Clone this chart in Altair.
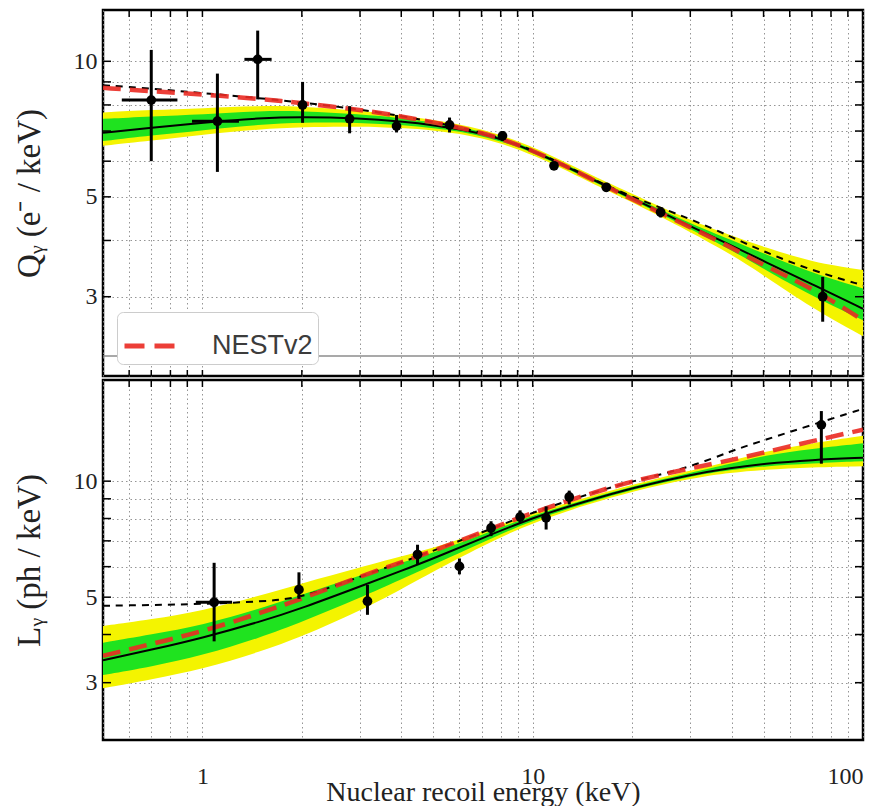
import altair as alt
import pandas as pd

# ---------------- data ----------------
x_curve = [0.5, 0.7, 1, 1.5, 2, 3, 4, 5, 7, 10, 15, 20, 30, 40, 50, 70, 100]

# Charge yield Qy (e- / keV)
qy_fit = [6.94, 7.12, 7.31, 7.48, 7.53, 7.47, 7.35, 7.22, 6.95, 6.36, 5.48, 4.97, 4.3, 3.9, 3.6, 3.2, 2.82]
qy_lo2 = [6.49, 6.66, 6.87, 7.07, 7.15, 7.17, 7.11, 7.03, 6.80, 6.23, 5.37, 4.87, 4.18, 3.72, 3.35, 2.83, 2.45]
qy_hi2 = [7.70, 7.80, 7.86, 7.97, 7.94, 7.77, 7.59, 7.41, 7.10, 6.49, 5.59, 5.08, 4.43, 4.10, 3.87, 3.58, 3.44]
qy_lo1 = [6.65, 6.84, 7.03, 7.24, 7.32, 7.31, 7.22, 7.11, 6.87, 6.30, 5.43, 4.92, 4.24, 3.81, 3.46, 3.01, 2.66]
qy_hi1 = [7.45, 7.55, 7.62, 7.76, 7.76, 7.63, 7.48, 7.32, 7.03, 6.42, 5.53, 5.02, 4.36, 4.01, 3.74, 3.39, 3.13]
qy_nest = [8.73, 8.58, 8.44, 8.25, 8.08, 7.8, 7.55, 7.32, 6.97, 6.37, 5.48, 4.94, 4.28, 3.86, 3.52, 3.14, 2.66]
qy_dash = [8.85, 8.7, 8.5, 8.28, 8.1, 7.82, 7.56, 7.33, 6.98, 6.38, 5.5, 4.99, 4.47, 4.07, 3.78, 3.43, 3.18]

qy_e = [0.70, 1.11, 1.47, 2.01, 2.79, 3.87, 5.6, 8.1, 11.6, 16.7, 24.4, 75.5]
qy_e_lo = [0.57, 0.93, 1.34, 2.01, 2.79, 3.87, 5.6, 8.1, 11.6, 16.7, 24.4, 75.5]
qy_e_hi = [0.84, 1.29, 1.62, 2.01, 2.79, 3.87, 5.6, 8.1, 11.6, 16.7, 24.4, 75.5]
qy_val = [8.2, 7.36, 10.1, 8.0, 7.45, 7.18, 7.22, 6.83, 5.86, 5.25, 4.62, 3.0]
qy_lo = [6.0, 5.68, 8.23, 7.3, 6.92, 6.95, 6.95, 6.66, 5.74, 5.13, 4.5, 2.64]
qy_hi = [10.6, 9.39, 11.7, 9.0, 7.95, 7.6, 7.5, 7.0, 5.98, 5.37, 4.74, 3.32]

# Light yield Ly (ph / keV)
ly_fit = [3.43, 3.65, 3.92, 4.32, 4.68, 5.33, 5.85, 6.3, 7.1, 8.05, 8.95, 9.6, 10.4, 10.83, 11.1, 11.35, 11.5]
ly_lo2 = [2.90, 3.06, 3.25, 3.61, 3.95, 4.61, 5.24, 5.83, 6.78, 7.82, 8.75, 9.41, 10.17, 10.53, 10.71, 10.87, 10.93]
ly_hi2 = [4.21, 4.38, 4.61, 5.05, 5.43, 5.97, 6.38, 6.71, 7.38, 8.29, 9.15, 9.79, 10.66, 11.26, 11.93, 12.54, 13.11]
ly_lo1 = [3.14, 3.30, 3.53, 3.93, 4.31, 4.98, 5.56, 6.07, 6.92, 7.93, 8.84, 9.50, 10.30, 10.70, 10.93, 11.12, 11.27]
ly_hi1 = [3.81, 4.00, 4.23, 4.67, 5.08, 5.70, 6.14, 6.52, 7.24, 8.17, 9.04, 9.70, 10.52, 11.10, 11.66, 12.14, 12.54]
ly_nest = [3.52, 3.78, 4.07, 4.55, 4.95, 5.66, 6.15, 6.6, 7.35, 8.3, 9.3, 10.0, 10.8, 11.35, 11.85, 12.7, 13.6]
ly_dash = [4.75, 4.77, 4.8, 4.87, 4.97, 5.66, 6.15, 6.6, 7.35, 8.3, 9.3, 10.0, 10.85, 12.0, 12.75, 14.0, 15.4]

ly_e = [1.085, 1.96, 3.16, 4.48, 6.0, 7.48, 9.16, 10.98, 12.9, 74.8]
ly_e_lo = [0.955, 1.96, 3.16, 4.48, 6.0, 7.48, 9.16, 10.98, 12.9, 74.8]
ly_e_hi = [1.23, 1.96, 3.16, 4.48, 6.0, 7.48, 9.16, 10.98, 12.9, 74.8]
ly_val = [4.85, 5.23, 4.88, 6.45, 6.01, 7.56, 8.08, 8.03, 9.1, 14.0]
ly_lo = [3.84, 4.95, 4.5, 6.08, 5.73, 7.2, 7.8, 7.49, 8.7, 11.1]
ly_hi = [6.14, 5.8, 5.38, 6.84, 6.3, 7.87, 8.4, 8.6, 9.45, 15.2]

x_grid = [0.5, 0.6, 0.7, 0.8, 0.9, 1, 2, 3, 4, 5, 6, 7, 8, 9, 10, 20, 30, 40, 50, 60, 70, 80, 90, 100]
x_ticks = [0.6, 0.7, 0.8, 0.9, 1, 2, 3, 4, 5, 6, 7, 8, 9, 10, 20, 30, 40, 50, 60, 70, 80, 90]
y_grid = [3, 4, 5, 6, 7, 8, 9, 10]
x_labels = [1, 10, 100]
y_labels = [3, 5, 10]

# ---------------- style ----------------
SERIF = "Liberation Serif"
W = 760
H_TOP = 366
H_BOT = 360
XDOM = [0.5, 100]
QY_DOM = [2.0, 13.0]
LY_DOM = [2.13, 18.3]
YELLOW = "#f4f400"
GREEN = "#1fe31f"
RED = "#ea2a22"
CURVE = "basis"


def panel(fit, lo1, hi1, lo2, hi2, nest, dash, e, elo, ehi, v, vlo, vhi,
          ydom, H, ytitle, bottom):
    xscale = alt.Scale(type="log", domain=XDOM, nice=False)
    yscale = alt.Scale(type="log", domain=ydom, nice=False)
    lab_x = "indexof(" + str(x_labels) + ", datum.value) >= 0 ? '' + datum.value : ''"
    lab_y = "indexof(" + str(y_labels) + ", datum.value) >= 0 ? '' + datum.value : ''"
    if bottom:
        xaxis = alt.Axis(values=x_grid, grid=True, ticks=False, tickSize=0, domain=False,
                         labelExpr=lab_x, labelFont=SERIF, labelFontSize=24,
                         labelPadding=24, labelColor="#222",
                         titleFont=SERIF, titleFontSize=28, titleFontWeight="normal",
                         titleColor="#222", titleY=52, titleBaseline="middle")
        xtitle = "Nuclear recoil energy (keV)"
    else:
        xaxis = alt.Axis(values=x_grid, grid=True, ticks=False, tickSize=0,
                         domain=False, labels=False)
        xtitle = None
    yaxis = alt.Axis(values=y_grid, grid=True, ticks=False, tickSize=0, domain=False,
                     labelExpr=lab_y, labelFont=SERIF, labelFontSize=24,
                     labelPadding=6, labelColor="#222",
                     titleFont=SERIF, titleFontSize=33, titleFontWeight="normal",
                     titleColor="#222", titleX=-74, titleY=H / 2,
                     titleBaseline="middle", titleAngle=270)

    def X(f):
        return alt.X(f + ":Q", scale=xscale, axis=xaxis, title=xtitle)

    def Y(f):
        return alt.Y(f + ":Q", scale=yscale, axis=yaxis, title=ytitle)

    curves = pd.DataFrame({"x": x_curve, "fit": fit, "lo1": lo1, "hi1": hi1,
                           "lo2": lo2, "hi2": hi2, "nest": nest, "dash": dash,
                           "m": ["NESTv2"] * len(x_curve)})
    pts = pd.DataFrame({"x": e, "elo": elo, "ehi": ehi, "v": v, "vlo": vlo, "vhi": vhi})
    hpts = pts[pts["elo"] < pts["ehi"]]
    xt = pd.DataFrame({"x": x_ticks})
    yt = pd.DataFrame({"y": y_grid})

    base = alt.Chart(curves)
    band2 = base.mark_area(color=YELLOW, clip=True, interpolate=CURVE).encode(
        x=X("x"), y=Y("lo2"), y2="hi2")
    band1 = base.mark_area(color=GREEN, clip=True, interpolate=CURVE).encode(
        x=X("x"), y=Y("lo1"), y2="hi1")
    fitl = base.mark_line(color="black", strokeWidth=2, clip=True,
                          interpolate=CURVE).encode(x=X("x"), y=Y("fit"))
    dashl = base.mark_line(color="black", strokeWidth=2, strokeDash=[7, 6], clip=True,
                           interpolate=CURVE).encode(x=X("x"), y=Y("dash"))
    if bottom:
        redl = base.mark_line(color=RED, strokeWidth=4.5, strokeDash=[18, 9], clip=True,
                              opacity=0.9, interpolate=CURVE).encode(
            x=X("x"), y=Y("nest"))
    else:
        redl = base.mark_line(strokeWidth=4.5, strokeDash=[18, 9], clip=True,
                              opacity=0.9, interpolate=CURVE).encode(
            x=X("x"), y=Y("nest"),
            color=alt.Color("m:N", scale=alt.Scale(domain=["NESTv2"], range=[RED]),
                            title=None,
                            legend=alt.Legend(orient="none", legendX=14, legendY=302,
                                              symbolType="stroke", symbolStrokeWidth=5,
                                              symbolDash=[20, 10], symbolSize=2809,
                                              labelFont="Liberation Sans",
                                              labelFontSize=27, labelColor="#3c3c3c",
                                              labelOffset=32, padding=5,
                                              fillColor="white", strokeColor="#cccccc",
                                              cornerRadius=6)))
    verr = alt.Chart(pts).mark_rule(color="black", strokeWidth=3).encode(
        x=X("x"), y=Y("vlo"), y2="vhi")
    herr = alt.Chart(hpts).mark_rule(color="black", strokeWidth=3).encode(
        x=X("elo"), x2="ehi", y=Y("v"))
    dots = alt.Chart(pts).mark_circle(color="black", size=95, opacity=1).encode(
        x=X("x"), y=Y("v"))

    tk = dict(color="black", strokeWidth=1.5)
    t_top = alt.Chart(xt).mark_rule(**tk).encode(x=X("x"), y=alt.value(0), y2=alt.value(7))
    t_left = alt.Chart(yt).mark_rule(**tk).encode(y=Y("y"), x=alt.value(0), x2=alt.value(8))
    t_right = alt.Chart(yt).mark_rule(**tk).encode(y=Y("y"), x=alt.value(W - 8), x2=alt.value(W))
    layers = [band2, band1, fitl, dashl, redl, verr, herr, dots, t_top, t_left, t_right]
    if not bottom:
        t_bot = alt.Chart(xt).mark_rule(**tk).encode(x=X("x"), y=alt.value(H - 6), y2=alt.value(H))
        sep = alt.Chart(pd.DataFrame({"a": [0]})).mark_rule(color="#8c8c8c", strokeWidth=1.5).encode(
            x=alt.value(0), x2=alt.value(W), y=alt.value(H - 20))
        layers = [sep] + layers + [t_bot]
    return alt.layer(*layers).properties(width=W, height=H)


top = panel(qy_fit, qy_lo1, qy_hi1, qy_lo2, qy_hi2, qy_nest, qy_dash,
            qy_e, qy_e_lo, qy_e_hi, qy_val, qy_lo, qy_hi,
            QY_DOM, H_TOP, "Q\u1d67 (e\u207b / keV)", False)
bot = panel(ly_fit, ly_lo1, ly_hi1, ly_lo2, ly_hi2, ly_nest, ly_dash,
            ly_e, ly_e_lo, ly_e_hi, ly_val, ly_lo, ly_hi,
            LY_DOM, H_BOT, "L\u1d67 (ph / keV)", True)

chart = alt.vconcat(top, bot, spacing=0).properties(
    padding={"left": 3, "right": 0, "top": 0, "bottom": 0}
).configure_view(stroke="black", strokeWidth=2.5).configure_axis(
    gridColor="#8a8a8a", gridDash=[1.5, 3], gridWidth=1, gridOpacity=0.9
)

chart.save("out.html", embed_options={"renderer": "svg", "actions": False})
